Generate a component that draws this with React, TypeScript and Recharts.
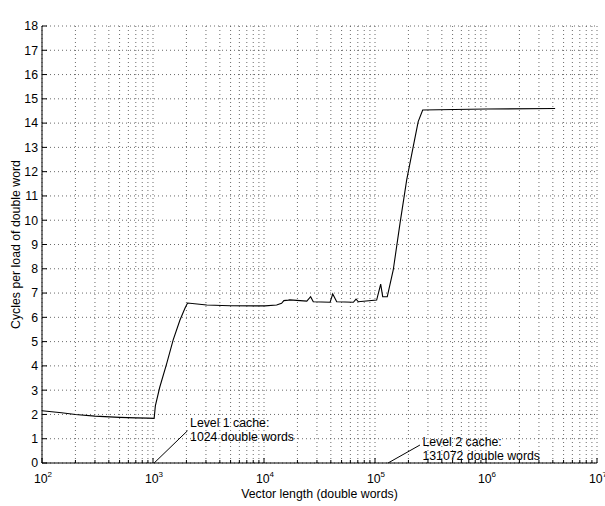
import React from 'react'
import {
  LineChart, Line, XAxis, YAxis, CartesianGrid, ReferenceLine,
} from 'recharts'

const FONT = '"Liberation Sans", Arial, Helvetica, sans-serif'
const FS = 12.3

// vector length (double words) and measured cycles per load
const vectorLength = [
  100, 150, 200, 300, 500, 700, 900, 1024, 1050, 1150, 1330, 1520, 1750, 1940, 2048,
  3050, 4950, 10200, 13000, 14400, 15100, 16560, 17100, 24300, 26300, 27800, 39400,
  41600, 45200, 63800, 67500, 70800, 103500, 112500, 117300, 129000, 146000, 168000,
  193000, 221000, 245000, 269000, 1000000, 4194304,
]
const cyclesPerLoad = [
  2.15, 2.07, 2.0, 1.93, 1.88, 1.86, 1.85, 1.84, 2.35, 3.12, 4.1, 5.07, 5.89, 6.37, 6.59,
  6.51, 6.48, 6.47, 6.51, 6.58, 6.69, 6.71, 6.72, 6.67, 6.85, 6.64, 6.62,
  6.96, 6.64, 6.62, 6.75, 6.64, 6.71, 7.37, 6.85, 6.85, 7.95, 9.87,
  11.66, 13.03, 14.06, 14.54, 14.58, 14.6,
]

const decades = [2, 3, 4, 5, 6, 7]
const xTicks = [
  ...decades.slice(0, -1).flatMap((d) => [1, 2, 3, 4, 5, 6, 7, 8, 9].map((m) => m * 10 ** d)),
  10 ** 7,
]
const yTicks = [0, 1, 2, 3, 4, 5, 6, 7, 8, 9, 10, 11, 12, 13, 14, 15, 16, 17, 18]

const title = 'Register load time on a SGI Indy IP22 workstation'
const xLabel = 'Vector length (double words)'
const yLabel = 'Cycles per load of double word'

const notes = [
  { from: { x: 1024, y: 0 }, to: { x: 2048, y: 1.33 }, lines: ['Level 1 cache:', '1024 double words'], dy: -3.4 },
  { from: { x: 131072, y: 0 }, to: { x: 254000, y: 0.74 }, lines: ['Level 2 cache:', '131072 double words'], dy: 0.7 },
]

const data = vectorLength.map((n, i) => ({ n, c: cyclesPerLoad[i] }))

const isMajor = (v: number) => Math.abs(Math.log10(v) - Math.round(Math.log10(v))) < 1e-9

function BottomTick({ x, y, payload }: any) {
  const v = payload.value
  const major = isMajor(v)
  return (
    <g>
      <line x1={x} y1={y} x2={x} y2={y - (major ? 5 : 3)} stroke="#000" />
      {major && (
        <text x={x + 1} y={y + 20} textAnchor="middle" fontSize={FS} fill="#000" fontFamily={FONT}>
          10<tspan dy={-6} fontSize={8}>{Math.round(Math.log10(v))}</tspan>
        </text>
      )}
    </g>
  )
}

function TopTick({ x, y, payload }: any) {
  const major = isMajor(payload.value)
  return <line x1={x} y1={y} x2={x} y2={y + (major ? 5 : 3)} stroke="#000" />
}

function NoteLabel({ viewBox, lines, dy }: any) {
  if (!viewBox) return null
  const x = viewBox.x + viewBox.width + 2.5
  const y = viewBox.y + dy
  return (
    <text x={x} y={y} fontSize={FS} fill="#000" fontFamily={FONT}>
      {lines.map((l: string, i: number) => (
        <tspan key={i} x={x} dy={i === 0 ? 0 : 14}>{l}</tspan>
      ))}
    </text>
  )
}

export default function App() {
  return (
    <div style={{ position: 'absolute', left: 0, top: 0, background: '#fff' }}>
      <LineChart
        width={605}
        height={506}
        data={data}
        margin={{ top: 26, right: 8, bottom: 13, left: 12 }}
        style={{ fontFamily: FONT }}
      >
        <CartesianGrid stroke="#444" strokeDasharray="1 3" strokeWidth={0.8} />
        <XAxis
          dataKey="n"
          type="number"
          scale="log"
          domain={[100, 1e7]}
          allowDataOverflow
          ticks={xTicks}
          interval={0}
          height={30}
          tickSize={0}
          tickMargin={0}
          tickLine={false}
          axisLine={{ stroke: '#000' }}
          tick={<BottomTick />}
          label={{
            content: ({ viewBox }: any) => (
              <text
                x={viewBox.x + viewBox.width / 2}
                y={viewBox.y + 35}
                textAnchor="middle"
                fontSize={FS}
                fill="#000"
                fontFamily={FONT}
              >
                {xLabel}
              </text>
            ),
          }}
        />
        <XAxis
          xAxisId="top"
          dataKey="n"
          orientation="top"
          type="number"
          scale="log"
          domain={[100, 1e7]}
          allowDataOverflow
          ticks={xTicks}
          interval={0}
          height={0}
          tickSize={0}
          tickMargin={0}
          tickLine={false}
          axisLine={{ stroke: '#000' }}
          tick={<TopTick />}
          label={{
            content: ({ viewBox }: any) => (
              <text
                x={viewBox.x + viewBox.width / 2}
                y={viewBox.y - 9}
                textAnchor="middle"
                fontSize={FS}
                fill="#000"
                fontFamily={FONT}
              >
                {title}
              </text>
            ),
          }}
        />
        <YAxis
          type="number"
          domain={[0, 18]}
          ticks={yTicks}
          interval={0}
          width={30}
          tickSize={-5}
          tickMargin={9}
          tickLine={{ stroke: '#000' }}
          axisLine={{ stroke: '#000' }}
          tick={{ fill: '#000', fontSize: FS, fontFamily: FONT }}
          label={{
            content: ({ viewBox }: any) => {
              const cx = viewBox.x + 7.5
              const cy = viewBox.y + viewBox.height / 2
              return (
                <text
                  x={cx}
                  y={cy}
                  transform={`rotate(-90, ${cx}, ${cy})`}
                  textAnchor="middle"
                  fontSize={FS}
                  fill="#000"
                  fontFamily={FONT}
                >
                  {yLabel}
                </text>
              )
            },
          }}
        />
        <YAxis
          yAxisId="right"
          orientation="right"
          type="number"
          domain={[0, 18]}
          ticks={yTicks}
          interval={0}
          width={0}
          tickSize={-5}
          tick={false}
          tickLine={{ stroke: '#000' }}
          axisLine={{ stroke: '#000' }}
        />
        <Line
          dataKey="c"
          type="linear"
          stroke="#000"
          strokeWidth={1.1}
          dot={false}
          isAnimationActive={false}
        />
        {notes.map((nt, i) => (
          <ReferenceLine
            key={i}
            segment={[nt.from, nt.to]}
            stroke="#000"
            strokeWidth={1}
            ifOverflow="visible"
            label={<NoteLabel lines={nt.lines} dy={nt.dy} />}
          />
        ))}
      </LineChart>
    </div>
  )
}
